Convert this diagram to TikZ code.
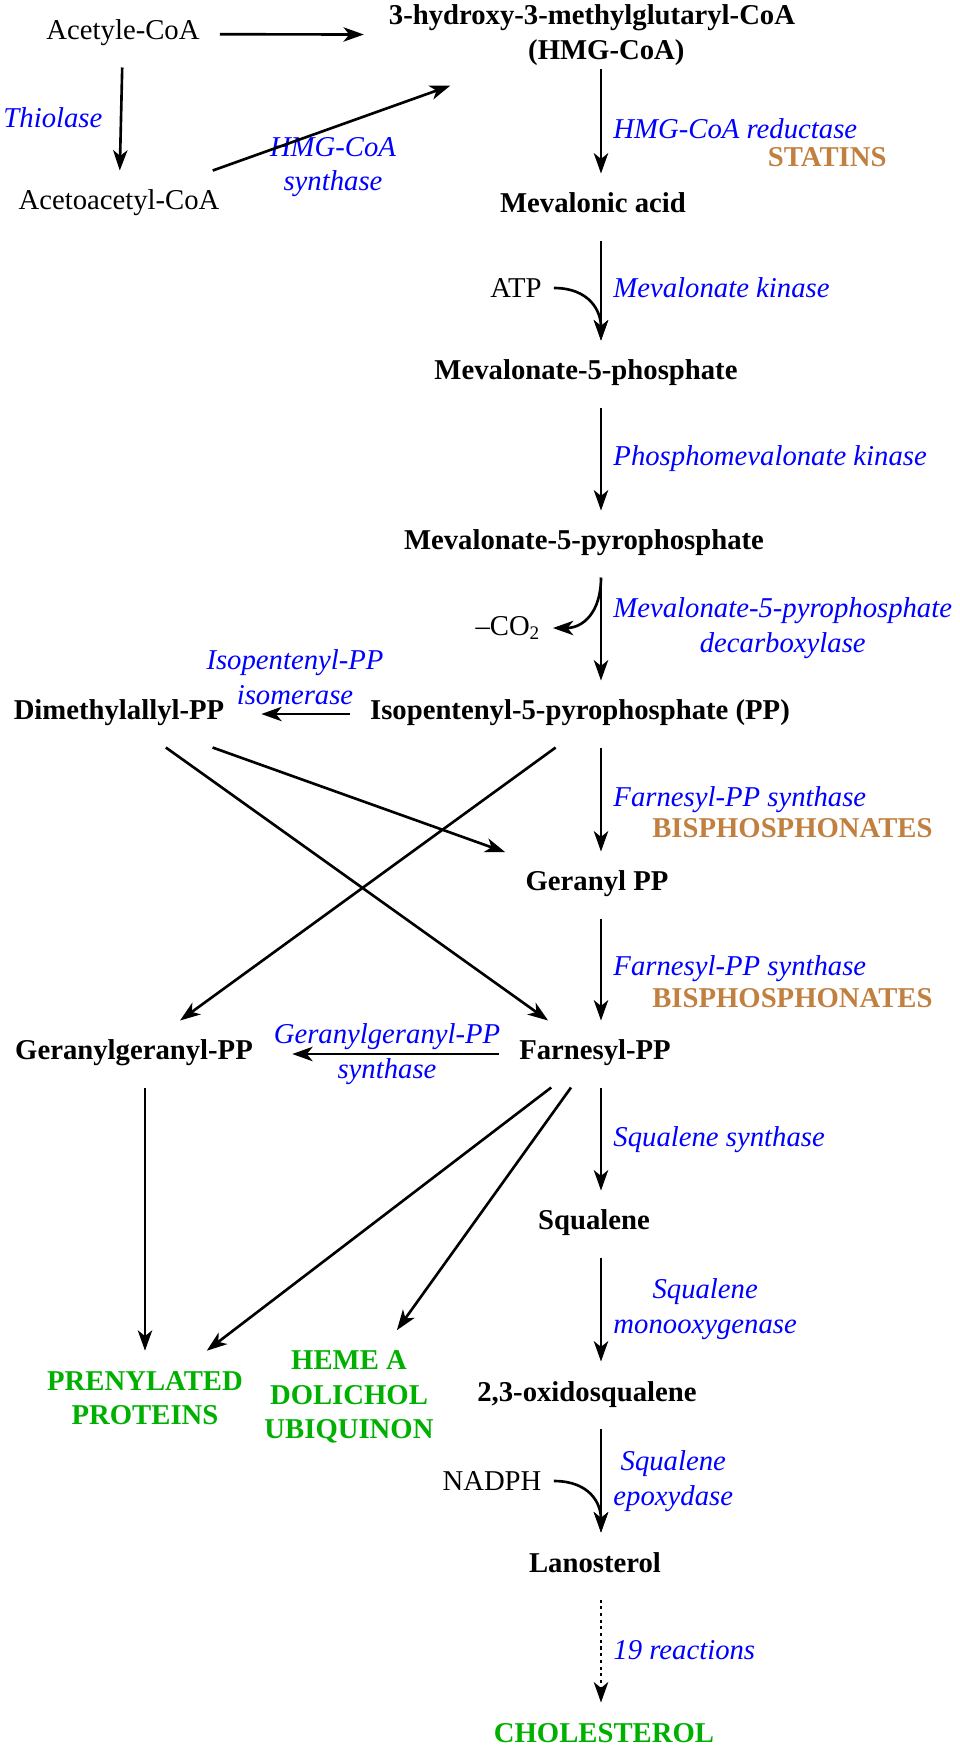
\documentclass[tikz,border=0pt]{standalone}
\usepackage{fontspec}
\setmainfont{Liberation Serif}
\usetikzlibrary{arrows.meta}
\definecolor{drugorange}{RGB}{193,128,64}
\definecolor{prodgreen}{RGB}{0,176,0}

\begin{document}
\fontsize{12}{14.5}\selectfont
\begin{tikzpicture}[x=0.418pt, y=-0.418pt,
    metab/.style={font=\bfseries, inner sep=8.3pt, text height=8pt, text depth=3pt},
    stack/.style={font=\bfseries, inner sep=8.3pt, align=center},
    plain/.style={inner sep=8.3pt, text height=8pt, text depth=3pt},
    cofactor/.style={inner sep=5pt},
    enzyme/.style={font=\itshape, text=blue, inner sep=0pt, align=center},
    drug/.style={font=\bfseries, text=drugorange, inner sep=0pt},
    reaction/.style={-{Stealth[length=8.5pt, width=6pt, inset=2.4pt]}, line width=1.1pt}]

        \useasboundingbox (0,0) rectangle (960,1750);
        \coordinate (spine) at (601,0);

        %Main pathway
        \node [stack] (hmg) at (592,35) {3-hydroxy-3-methylglutaryl-CoA\\\hspace*{12pt}(HMG-CoA)};
        \node [metab] (mevalonic) at (593,207) {Mevalonic acid};
        \node [metab] (mfp) at (586,374) {Mevalonate-5-phosphate};
        \node [metab] (mfpp) at (584,544) {Mevalonate-5-pyrophosphate};
        \node [metab] (ipp) at (580,714) {Isopentenyl-5-pyrophosphate (PP)};
        \node [metab] (gpp) at (597,885) {Geranyl PP};
        \node [metab] (fpp) at (595,1054) {Farnesyl-PP};
        \node [metab] (squalene) at (594,1224) {Squalene};
        \node [metab] (oxido) at (587,1395) {2,3-oxidosqualene};
        \node [metab] (lanosterol) at (595,1566) {Lanosterol};
        \node [metab, text=prodgreen] (cholesterol) at (604,1736) {CHOLESTEROL};

        %Side branches
        \node [plain] (acetyl) at (123,34) {Acetyle-CoA};
        \node [plain] (acetoacetyl) at (119,204) {Acetoacetyl-CoA};
        \node [metab] (dmapp) at (119,714) {Dimethylallyl-PP};
        \node [metab] (ggpp) at (134,1054) {Geranylgeranyl-PP};
        \node [stack, text=prodgreen] (prenyl) at (145,1398) {PRENYLATED\\PROTEINS};
        \node [stack, text=prodgreen] (heme) at (349,1397) {HEME A\\DOLICHOL\\UBIQUINON};

        %Cofactors
        \node [cofactor] (atp) at (516,288) {ATP};
        \node [cofactor] (co2) at (508,628) {--CO\textsubscript{2}};
        \node [cofactor] (nadph) at (492,1481) {NADPH};

        %Enzymes and inhibitors
        \node [enzyme, anchor=west] (thiolase) at (3,118) {Thiolase};
        \node [enzyme] (hmgs) at (333,167) {HMG-CoA\\synthase};
        \node [enzyme, anchor=west] (hmgr) at (613,129) {HMG-CoA reductase};
        \node [drug, anchor=east] (statins) at (887,157) {STATINS};
        \node [enzyme, anchor=west] (mk) at (613,288) {Mevalonate kinase};
        \node [enzyme, anchor=west] (pmk) at (613,459) {Phosphomevalonate kinase};
        \node [enzyme, anchor=west] (mdd) at (613,628) {Mevalonate-5-pyrophosphate\\decarboxylase};
        \node [enzyme] (idi) at (295,677) {Isopentenyl-PP\\isomerase};
        \node [enzyme, anchor=west] (fppsa) at (613,800) {Farnesyl-PP synthase};
        \node [drug, anchor=east] (bisa) at (933,828) {BISPHOSPHONATES};
        \node [enzyme, anchor=west] (fppsb) at (613,969) {Farnesyl-PP synthase};
        \node [drug, anchor=east] (bisb) at (933,998) {BISPHOSPHONATES};
        \node [enzyme] (ggpps) at (387,1054) {Geranylgeranyl-PP\\synthase};
        \node [enzyme, anchor=west] (sqs) at (613,1140) {Squalene synthase};
        \node [enzyme, anchor=west] (sqm) at (613,1309) {Squalene\\monooxygenase};
        \node [enzyme, anchor=west] (sqe) at (613,1481) {Squalene\\epoxydase};
        \node [enzyme, anchor=west] (nineteen) at (613,1650) {19 reactions};

        %Reactions
        \draw [reaction, shorten >=2pt] (acetyl) -- (hmg);
        \draw [reaction] (acetyl) -- (acetoacetyl);
        \draw [reaction] (acetoacetyl) -- (hmg);
        \draw [reaction, shorten <=-7pt] (hmg.south -| spine) -- (mevalonic.north -| spine);
        \draw [reaction] (mevalonic.south -| spine) -- (mfp.north -| spine);
        \draw [reaction] (atp.east) .. controls +(35,0) and +(0,-30) .. (mfp.north -| spine);
        \draw [reaction] (mfp.south -| spine) -- (mfpp.north -| spine);
        \draw [reaction] (mfpp.south -| spine) -- (ipp.north -| spine);
        \draw [reaction] (mfpp.south -| spine) .. controls +(0,35) and +(30,0) .. (co2.east);
        \draw [reaction, shorten >=7pt] (ipp) -- (dmapp);
        \draw [reaction] (ipp.south -| spine) -- (gpp.north -| spine);
        \draw [reaction] (dmapp) -- (gpp);
        \draw [reaction] (dmapp) -- (fpp);
        \draw [reaction] (ipp.-126) -- (ggpp);
        \draw [reaction] (gpp.south -| spine) -- (fpp.north -| spine);
        \draw [reaction, shorten >=8pt] (fpp) -- (ggpp);
        \draw [reaction] (ggpp.south -| prenyl.north) -- (prenyl.north);
        \draw [reaction] (fpp) -- (prenyl);
        \draw [reaction] (fpp) -- (heme);
        \draw [reaction] (fpp.south -| spine) -- (squalene.north -| spine);
        \draw [reaction] (squalene.south -| spine) -- (oxido.north -| spine);
        \draw [reaction] (oxido.south -| spine) -- (lanosterol.north -| spine);
        \draw [reaction] (nadph.east) .. controls +(35,0) and +(0,-30) .. (lanosterol.north -| spine);
        \draw [reaction, dash pattern=on 1.3pt off 1.5pt] (lanosterol.south -| spine) -- (cholesterol.north -| spine);

\end{tikzpicture}
\end{document}
